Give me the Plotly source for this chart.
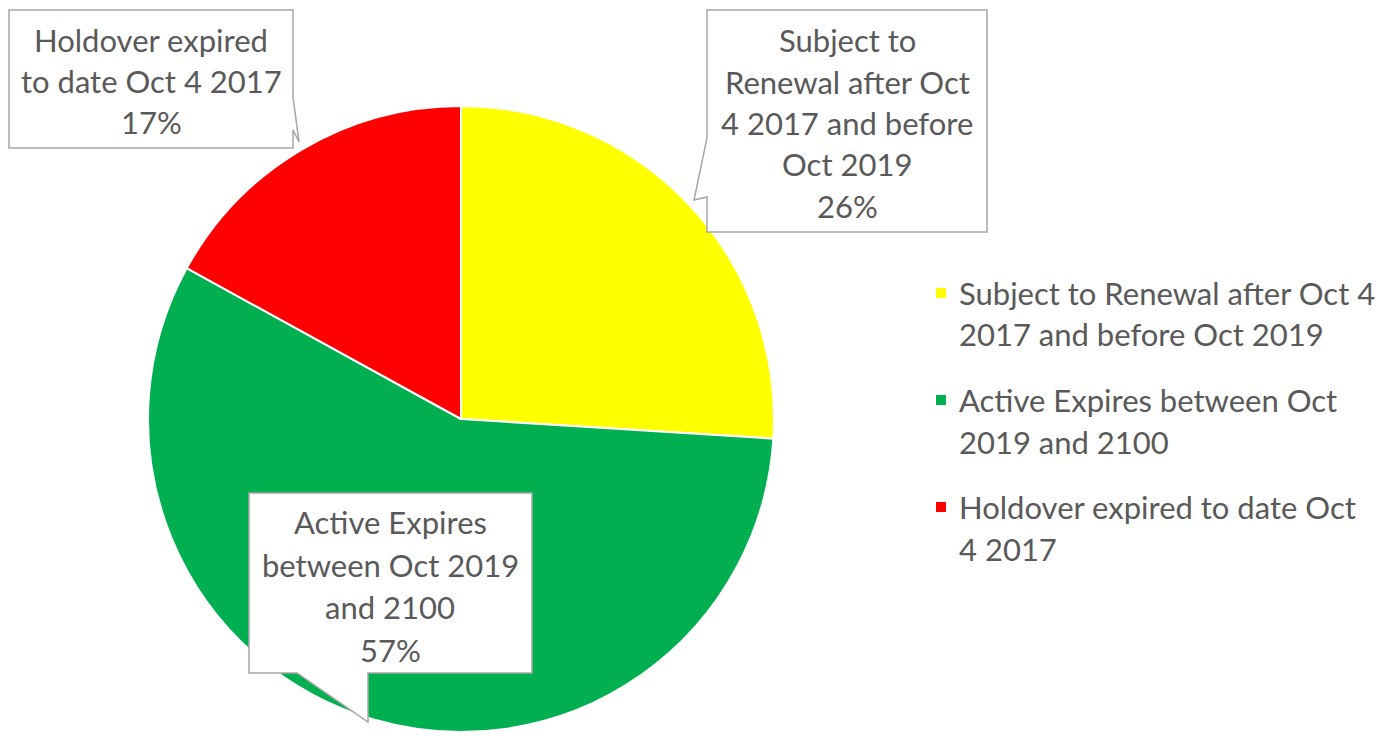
import plotly.graph_objects as go

# Licence status breakdown
labels = [
    "Subject to Renewal after Oct 4 2017 and before Oct 2019",
    "Active Expires between Oct 2019 and 2100",
    "Holdover expired to date Oct 4 2017",
]
values = [26, 57, 17]
colors = ["#FFFF00", "#00B050", "#FF0000"]

# Wrapped label text for the callouts and the legend
callout_lines = [
    ["Subject to", "Renewal after Oct", "4 2017 and before", "Oct 2019"],
    ["Active Expires", "between Oct 2019", "and 2100"],
    ["Holdover expired", "to date Oct 4 2017"],
]
legend_lines = [
    ["Subject to Renewal after Oct 4", "2017 and before Oct 2019"],
    ["Active Expires between Oct", "2019 and 2100"],
    ["Holdover expired to date Oct", "4 2017"],
]

W, H = 1383, 736
FONT = "Lato"
FONT_SIZE = 31
TEXT_COLOR = "#595959"
BORDER = "#A6A6A6"


def px(x):
    return x / W


def py(y):
    return 1 - y / H


fig = go.Figure(
    go.Pie(
        labels=labels,
        values=values,
        sort=False,
        direction="clockwise",
        rotation=0,
        marker=dict(colors=colors, line=dict(color="white", width=2)),
        textinfo="none",
        showlegend=False,
        domain=dict(x=[px(148), px(774)], y=[py(732), py(106)]),
    )
)

# Callout outlines (box plus pointer), in pixel positions
callouts = [
    # renewal: box on the upper right, pointer from the left edge
    dict(path=[(707, 10), (987, 10), (987, 232), (707, 232), (707, 197),
               (694, 200), (707, 138)],
         cx=847, y0=40, step=41.5),
    # active: box inside the green slice, pointer from the bottom edge
    dict(path=[(249, 493), (532, 493), (532, 673), (368, 673), (368, 722),
               (297, 673), (249, 673)],
         cx=390, y0=522, step=42.5),
    # holdover: box on the upper left, pointer from the right edge
    dict(path=[(9, 10), (293, 10), (293, 97), (299, 142), (293, 130),
               (293, 148), (9, 148)],
         cx=151, y0=40, step=41),
]

shapes = []
annotations = []
for i, c in enumerate(callouts):
    d = "M " + " L ".join(f"{px(x):.5f},{py(y):.5f}" for x, y in c["path"]) + " Z"
    shapes.append(dict(type="path", xref="paper", yref="paper", path=d,
                       fillcolor="white", line=dict(color=BORDER, width=1.5),
                       layer="above"))
    lines = callout_lines[i] + [f"{values[i]}%"]
    for k, t in enumerate(lines):
        annotations.append(dict(
            x=px(c["cx"]), y=py(c["y0"] + k * c["step"]),
            xref="paper", yref="paper", text=t, showarrow=False,
            xanchor="center", yanchor="middle",
            font=dict(family=FONT, size=FONT_SIZE, color=TEXT_COLOR)))

# Legend: colour square and wrapped label for each slice
legend_y = [293, 400, 507]
for i, y in enumerate(legend_y):
    shapes.append(dict(type="rect", xref="paper", yref="paper",
                       x0=px(936), x1=px(946), y0=py(y - 5), y1=py(y + 5),
                       fillcolor=colors[i], line=dict(width=0)))
    for k, t in enumerate(legend_lines[i]):
        annotations.append(dict(
            x=px(957), y=py(y + k * 41.5), xref="paper", yref="paper",
            text=t, showarrow=False, xanchor="left", yanchor="middle",
            font=dict(family=FONT, size=FONT_SIZE, color=TEXT_COLOR)))

fig.update_layout(
    width=W, height=H,
    margin=dict(l=0, r=0, t=0, b=0),
    paper_bgcolor="white",
    plot_bgcolor="white",
    shapes=shapes,
    annotations=annotations,
)

fig.write_html("out.html")
